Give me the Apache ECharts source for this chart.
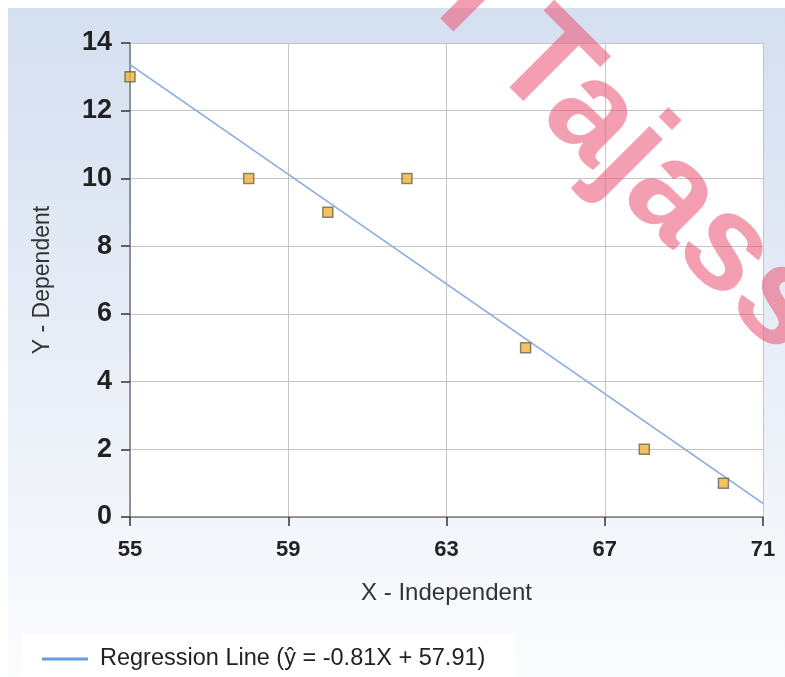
<!DOCTYPE html>
<html>
<head>
<meta charset="utf-8">
<script src="https://cdn.jsdelivr.net/npm/echarts@6/dist/echarts.min.js"></script>
<style>
  html, body { margin: 0; padding: 0; background: #fff; }
  #chart { width: 785px; height: 677px; }
</style>
</head>
<body>
<div id="chart"></div>
<script>
// observed points
const xValues = [55, 58, 60, 62, 65, 68, 70]
const yValues = [13, 10, 9, 10, 5, 2, 1]
// regression line from the legend: y = -0.81x + 57.91
const slope = -0.81
const intercept = 57.91
const lineX = [55, 71]
const xTicks = [55, 59, 63, 67, 71]
const yTicks = [0, 2, 4, 6, 8, 10, 12, 14]

const points = xValues.map((x, i) => [x, yValues[i]])
const linePoints = lineX.map(x => [x, +(slope * x + intercept).toFixed(2)])
const legendName = 'Regression Line (ŷ = -0.81X + 57.91)'

const labelFont = "'Liberation Sans', Arial, sans-serif"

const myChart = echarts.init(document.getElementById('chart'))

const option = {
  animation: false,
  graphic: [
    {
      type: 'rect',
      z: -10,
      shape: { x: 8, y: 8, width: 777, height: 669 },
      style: {
        fill: new echarts.graphic.LinearGradient(0, 0, 0, 1, [
          { offset: 0, color: '#d4dff0' },
          { offset: 1, color: '#fbfcfe' }
        ])
      },
      silent: true
    },
    {
      type: 'rect',
      z: -5,
      shape: { x: 22, y: 633, width: 493, height: 44 },
      style: { fill: '#ffffff' },
      silent: true
    },
    // watermark, mostly off the top edge
    {
      type: 'text',
      z: 100,
      x: 412,
      y: 33,
      rotation: -Math.PI / 4,
      style: {
        text: 'l Tajass',
        font: "bold 136px 'Liberation Sans', Arial, sans-serif",
        fill: 'rgba(236, 90, 120, 0.58)',
        textVerticalAlign: 'bottom'
      },
      silent: true
    }
  ],
  grid: {
    left: 130,
    right: 22,
    top: 43,
    bottom: 160,
    show: true,
    backgroundColor: '#ffffff',
    borderWidth: 0
  },
  legend: {
    left: 42,
    top: 647,
    padding: 0,
    data: [{ name: legendName, icon: 'rect' }],
    itemWidth: 46,
    itemHeight: 3,
    textStyle: {
      fontFamily: labelFont,
      fontSize: 23.5,
      color: '#222',
      padding: [0, 0, 0, 7]
    }
  },
  xAxis: {
    type: 'value',
    min: 55,
    max: 71,
    interval: 4,
    name: 'X - Independent',
    nameLocation: 'middle',
    nameGap: 64,
    nameTextStyle: { fontFamily: labelFont, fontSize: 24, color: '#333' },
    axisLine: { show: true, lineStyle: { color: '#7a7a7a', width: 1.5 } },
    axisTick: { show: true, length: 9, lineStyle: { color: '#333', width: 1.5 } },
    axisLabel: {
      margin: 22,
      fontFamily: labelFont,
      fontWeight: 'bold',
      fontSize: 22,
      color: '#222',
      showMinLabel: true,
      showMaxLabel: true
    },
    splitLine: { show: true, lineStyle: { color: '#c4c4c4', width: 1 } }
  },
  yAxis: {
    type: 'value',
    min: 0,
    max: 14,
    interval: 2,
    name: 'Y - Dependent',
    nameLocation: 'middle',
    nameGap: 76,
    nameTextStyle: { fontFamily: labelFont, fontSize: 23, color: '#333' },
    axisLine: { show: true, lineStyle: { color: '#7a7a7a', width: 1.5 } },
    axisTick: { show: true, length: 9, lineStyle: { color: '#333', width: 1.5 } },
    axisLabel: {
      margin: 18,
      fontFamily: labelFont,
      fontWeight: 'bold',
      fontSize: 27,
      color: '#222'
    },
    splitLine: { show: true, lineStyle: { color: '#c4c4c4', width: 1 } }
  },
  series: [
    {
      name: legendName,
      type: 'line',
      data: linePoints,
      showSymbol: false,
      itemStyle: { color: '#6a9ae6' },
      lineStyle: { color: '#86a9e2', width: 1.5 },
      z: 2
    },
    {
      name: 'Data',
      type: 'scatter',
      data: points,
      symbol: 'rect',
      symbolSize: 10,
      itemStyle: { color: '#f3b13a', borderColor: '#6b6650', borderWidth: 1.5 },
      z: 3
    }
  ]
}

myChart.setOption(option)
</script>
</body>
</html>
